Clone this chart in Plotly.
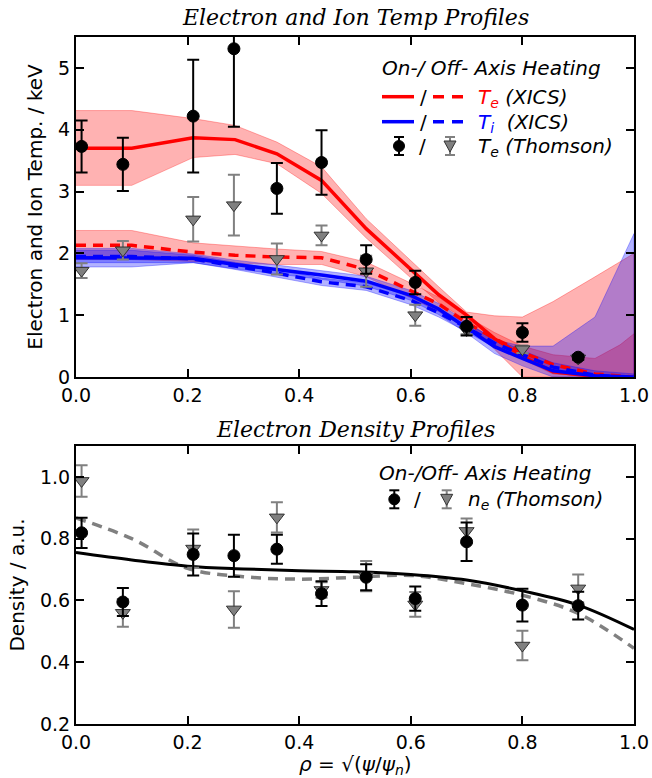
import plotly.graph_objects as go

# ---------------- data ----------------
rho_pts = [0.01, 0.084, 0.21, 0.283, 0.36, 0.44, 0.52, 0.608, 0.70, 0.80, 0.90]

te_on_thomson = [3.73, 3.44, 4.22, 5.31, 3.05, 3.47, 1.90, 1.53, 0.82, 0.72, 0.32]
te_on_thomson_err = [0.42, 0.43, 0.91, 1.26, 0.41, 0.52, 0.23, 0.19, 0.15, 0.15, 0.04]
te_off_thomson = [1.72, 2.05, 2.55, 2.78, 1.91, 2.29, 1.71, 1.00, 0.76, 0.45, 0.30]
te_off_thomson_err = [0.12, 0.15, 0.36, 0.49, 0.25, 0.16, 0.25, 0.17, 0.07, 0.06, 0.03]

ne_on = [0.819, 0.595, 0.749, 0.745, 0.766, 0.622, 0.675, 0.606, 0.790, 0.585, 0.583]
ne_on_err = [0.049, 0.045, 0.068, 0.068, 0.047, 0.040, 0.042, 0.039, 0.062, 0.053, 0.045]
ne_off = [0.987, 0.560, 0.768, 0.571, 0.869, 0.634, 0.679, 0.587, 0.825, 0.454, 0.639]
ne_off_err = [0.051, 0.045, 0.062, 0.059, 0.049, 0.025, 0.049, 0.040, 0.040, 0.048, 0.045]

rho_xics = [0.0, 0.1, 0.21, 0.285, 0.36, 0.44, 0.52, 0.60, 0.65, 0.70, 0.75, 0.80, 0.855, 0.93, 0.975, 1.0]
te_on_xics = [3.70, 3.70, 3.87, 3.84, 3.61, 3.18, 2.40, 1.74, 1.33, 1.00, 0.62, 0.34, 0.085, 0.01, 0.0, 0.0]
te_on_hi = [4.31, 4.31, 4.18, 4.07, 3.80, 3.40, 2.56, 1.88, 1.46, 1.05, 0.99, 0.97, 1.22, 1.62, 1.87, 2.00]
te_on_lo = [3.10, 3.10, 3.55, 3.60, 3.45, 2.97, 2.25, 1.60, 1.20, 0.92, 0.45, 0.0, 0.0, 0.0, 0.0, 0.0]
te_off_xics = [2.13, 2.13, 2.02, 1.97, 1.94, 1.93, 1.74, 1.40, 1.18, 0.88, 0.62, 0.40, 0.20, 0.05, 0.01, 0.0]
te_off_hi = [2.37, 2.37, 2.17, 2.12, 2.07, 2.03, 1.86, 1.52, 1.29, 0.98, 0.72, 0.50, 0.36, 0.30, 0.52, 0.70]
te_off_lo = [1.90, 1.90, 1.87, 1.84, 1.82, 1.82, 1.62, 1.28, 1.06, 0.78, 0.50, 0.28, 0.05, 0.0, 0.0, 0.0]
ti_on_xics = [1.93, 1.93, 1.92, 1.82, 1.74, 1.65, 1.55, 1.32, 1.10, 0.80, 0.49, 0.30, 0.10, 0.02, 0.0, 0.0]
ti_on_hi = [2.08, 2.08, 1.99, 1.89, 1.81, 1.72, 1.63, 1.40, 1.19, 0.89, 0.60, 0.50, 0.50, 0.97, 1.85, 2.32]
ti_on_lo = [1.78, 1.78, 1.85, 1.75, 1.67, 1.58, 1.47, 1.24, 1.01, 0.71, 0.38, 0.18, 0.0, 0.0, 0.0, 0.0]
ti_off_xics = [1.95, 1.95, 1.91, 1.80, 1.68, 1.54, 1.46, 1.24, 1.04, 0.80, 0.55, 0.36, 0.16, 0.03, 0.0, 0.0]
ti_off_hi = [2.05, 2.05, 1.97, 1.86, 1.74, 1.60, 1.52, 1.31, 1.11, 0.87, 0.62, 0.43, 0.23, 0.10, 0.06, 0.05]
ti_off_lo = [1.85, 1.85, 1.85, 1.74, 1.62, 1.48, 1.40, 1.17, 0.97, 0.73, 0.48, 0.29, 0.09, 0.0, 0.0, 0.0]

rho_fit = [0.0, 0.1, 0.2, 0.3, 0.4, 0.5, 0.6, 0.7, 0.8, 0.9, 1.0]
ne_fit_on = [0.755, 0.731, 0.711, 0.702, 0.696, 0.693, 0.684, 0.666, 0.631, 0.585, 0.506]
ne_fit_off = [0.867, 0.800, 0.704, 0.677, 0.669, 0.675, 0.681, 0.654, 0.617, 0.558, 0.445]

x_ticks = [0.0, 0.2, 0.4, 0.6, 0.8, 1.0]
x_tick_text = ["0.0", "0.2", "0.4", "0.6", "0.8", "1.0"]
y1_ticks = [0, 1, 2, 3, 4, 5]
y2_ticks = [0.2, 0.4, 0.6, 0.8, 1.0]
y2_tick_text = ["0.2", "0.4", "0.6", "0.8", "1.0"]

# ---------------- style ----------------
RED = "rgb(255,0,0)"
BLUE = "rgb(0,0,255)"
GRAY = "rgb(128,128,128)"
PINK_FILL = "rgba(255,0,0,0.3)"
BLUE_FILL = "rgba(0,0,255,0.3)"
FONT = "DejaVu Sans"
SERIF = "DejaVu Serif"

W, H = 652, 778
ML, MR, MT, MB = 76, 18, 37, 54
PW, PH = W - ML - MR, H - MT - MB


def px(xp):
    return (xp - ML) / PW


def py(yp):
    return (H - MB - yp) / PH


fig = go.Figure()


def band(x, lo, hi, color, xa, ya):
    fig.add_trace(go.Scatter(
        x=list(x) + list(x)[::-1], y=list(hi) + list(lo)[::-1],
        fill="toself", fillcolor=color, mode="lines",
        line=dict(color=color, width=1), hoverinfo="skip",
        showlegend=False, xaxis=xa, yaxis=ya))


band(rho_xics, te_on_lo, te_on_hi, PINK_FILL, "x", "y")
band(rho_xics, te_off_lo, te_off_hi, PINK_FILL, "x", "y")
band(rho_xics, ti_on_lo, ti_on_hi, BLUE_FILL, "x", "y")
band(rho_xics, ti_off_lo, ti_off_hi, BLUE_FILL, "x", "y")

for yv, col, dash in [(te_on_xics, RED, "solid"), (te_off_xics, RED, "10px,7px"),
                      (ti_on_xics, BLUE, "solid"), (ti_off_xics, BLUE, "10px,7px")]:
    fig.add_trace(go.Scatter(x=rho_xics, y=yv, mode="lines",
                             line=dict(color=col, width=3.5, dash=dash),
                             showlegend=False, xaxis="x", yaxis="y"))


def points(yv, err, sym, col, edge, ebcol, xa, ya, size):
    fig.add_trace(go.Scatter(
        x=rho_pts, y=yv, mode="markers",
        marker=dict(symbol=sym, size=size, color=col, line=dict(color=edge, width=1)),
        error_y=dict(type="data", array=err, visible=True, color=ebcol,
                     thickness=2, width=6),
        showlegend=False, xaxis=xa, yaxis=ya))


points(te_off_thomson, te_off_thomson_err, "triangle-down", GRAY, "rgb(50,50,50)", GRAY, "x", "y", 13)
points(te_on_thomson, te_on_thomson_err, "circle", "black", "black", "black", "x", "y", 12)

fig.add_trace(go.Scatter(x=rho_fit, y=ne_fit_off, mode="lines",
                         line=dict(color=GRAY, width=3.5, dash="10px,7px", shape="spline"),
                         showlegend=False, xaxis="x2", yaxis="y2"))
fig.add_trace(go.Scatter(x=rho_fit, y=ne_fit_on, mode="lines",
                         line=dict(color="black", width=3, shape="spline"),
                         showlegend=False, xaxis="x2", yaxis="y2"))
points(ne_off, ne_off_err, "triangle-down", GRAY, "rgb(50,50,50)", GRAY, "x2", "y2", 13)
points(ne_on, ne_on_err, "circle", "black", "black", "black", "x2", "y2", 12)

# ---------------- legend (drawn by hand) ----------------
shapes = []
annotations = []


def txt(x, y, s, anchor="left", size=20, color="black", family=FONT):
    annotations.append(dict(x=px(x), y=py(y), xref="paper", yref="paper", text=s,
                            showarrow=False, xanchor=anchor, yanchor="middle",
                            font=dict(family=family, size=size, color=color)))


def lseg(x0, x1, y, col, dash="solid", w=3.5):
    shapes.append(dict(type="line", xref="paper", yref="paper", x0=px(x0), x1=px(x1),
                       y0=py(y), y1=py(y), line=dict(color=col, width=w, dash=dash)))


def errglyph(x, y, col, kind):
    shapes.append(dict(type="line", xref="paper", yref="paper", x0=px(x), x1=px(x),
                       y0=py(y - 9), y1=py(y + 9), line=dict(color=col, width=2)))
    for yy in (y - 9, y + 9):
        shapes.append(dict(type="line", xref="paper", yref="paper", x0=px(x - 5), x1=px(x + 5),
                           y0=py(yy), y1=py(yy), line=dict(color=col, width=2)))
    if kind == "circle":
        shapes.append(dict(type="circle", xref="paper", yref="paper",
                           x0=px(x - 5.5), x1=px(x + 5.5), y0=py(y + 5.5), y1=py(y - 5.5),
                           fillcolor="black", line=dict(color="black", width=1)))
    else:
        path = "M {} {} L {} {} L {} {} Z".format(px(x - 6), py(y - 5), px(x + 6), py(y - 5),
                                                 px(x), py(y + 6))
        shapes.append(dict(type="path", xref="paper", yref="paper", path=path,
                           fillcolor=GRAY, line=dict(color="rgb(50,50,50)", width=1)))


txt(380, 68, "<i>On-/ Off- Axis Heating</i>")
lseg(382, 414, 96.7, RED)
txt(423, 96.7, "/", anchor="center")
lseg(433, 466, 96.7, RED, "11px,8px")
txt(476, 97.7, "<i><span style='color:red'>T<sub>e</sub></span> (XICS)</i>")
lseg(382, 414, 121.7, BLUE)
txt(423, 121.7, "/", anchor="center")
lseg(433, 466, 121.7, BLUE, "11px,8px")
txt(476, 122.7, "<i><span style='color:blue'>T<sub>i</sub></span>&nbsp; (XICS)</i>")
errglyph(399, 146, "black", "circle")
txt(422, 146, "/", anchor="center")
errglyph(450, 146, GRAY, "tri")
txt(476, 147, "<i>T<sub>e</sub> (Thomson)</i>")

txt(377, 473.3, "<i>On-/Off- Axis Heating</i>")
errglyph(394.3, 499.3, "black", "circle")
txt(417, 499.3, "/", anchor="center")
errglyph(446.7, 499.3, GRAY, "tri")
txt(466, 500.3, "<i>n<sub>e</sub> (Thomson)</i>")

# titles
txt(355, 17, "<i>Electron and Ion Temp Profiles</i>", anchor="center", size=22, family=SERIF)
txt(355, 429, "<i>Electron Density Profiles</i>", anchor="center", size=22, family=SERIF)

# x-axis label of the lower panel
txt(355, 765, "<i>ρ</i> = √(<i>ψ</i>/<i>ψ<sub>n</sub></i>)", anchor="center", size=20)

axis_common = dict(showline=True, linewidth=2, linecolor="black", mirror="ticks",
                   ticks="inside", ticklen=8, tickwidth=1.5, tickcolor="black",
                   showgrid=False, zeroline=False, automargin=False,
                   tickfont=dict(family=FONT, size=19, color="black"))

fig.update_layout(
    width=W, height=H,
    margin=dict(l=ML, r=MR, t=MT, b=MB, autoexpand=False),
    paper_bgcolor="white", plot_bgcolor="white",
    showlegend=False,
    xaxis=dict(domain=[0, 1], anchor="y", range=[0, 1], tickvals=x_ticks,
               ticktext=x_tick_text, **axis_common),
    yaxis=dict(domain=[py(377), 1], anchor="x", range=[0, 5.5], tickvals=y1_ticks,
               title=dict(text="Electron and Ion Temp. / keV", standoff=10,
                          font=dict(family=FONT, size=20, color="black")),
               **axis_common),
    xaxis2=dict(domain=[0, 1], anchor="y2", range=[0, 1], tickvals=x_ticks,
                ticktext=x_tick_text, **axis_common),
    yaxis2=dict(domain=[0, py(446)], anchor="x2", range=[0.2, 1.1], tickvals=y2_ticks,
                ticktext=y2_tick_text,
                title=dict(text="Density / a.u.", standoff=10,
                           font=dict(family=FONT, size=20, color="black")),
                **axis_common),
    shapes=shapes, annotations=annotations,
)

fig.write_html("out.html", config={"displayModeBar": False},
               post_script="document.body.style.margin='0px';document.body.style.overflow='hidden';")
